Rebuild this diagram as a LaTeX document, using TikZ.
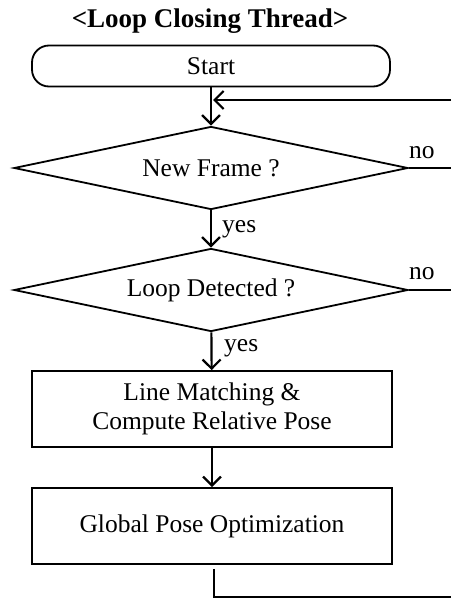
\documentclass[tikz,border=0pt]{standalone}
\usepackage{fontspec}
\setmainfont{Liberation Serif}
\usetikzlibrary{arrows.meta,shapes.geometric}
\begin{document}
\begin{tikzpicture}[x=1pt,y=-1pt,
  txt/.style={font=\fontsize{25.5}{29}\selectfont},
  term/.style={draw,line width=1.8pt,rounded corners=17pt,minimum width=358pt,minimum height=41pt,inner sep=0pt,txt},
  decision/.style={draw,diamond,line width=1.8pt,minimum width=394pt,minimum height=83pt,inner sep=0pt,aspect=4.75,txt},
  process/.style={draw,line width=1.8pt,minimum width=360pt,minimum height=76pt,inner sep=0pt,align=center,txt},
  flow/.style={line width=2.2pt,-{Straight Barb[length=9pt,width=18pt,line width=2.2pt]}},
  back/.style={line width=2.8pt},
  lbl/.style={txt,inner sep=0pt,anchor=base west},
]
\useasboundingbox (0,0) rectangle (451,599);

% title and flow nodes
\node[font=\fontsize{27}{32}\selectfont\bfseries,inner sep=0pt,anchor=base] (title) at (210,28) {<Loop Closing Thread>};
\node[term] (start) at (211,66) {Start};
\node[decision] (frame) at (211,168) {New Frame ?};
\node[decision] (loop) at (211,290) {Loop Detected ?};
\node[process] (match) at (212,409) {Line Matching \&\\Compute Relative Pose};
\node[process] (opt) at (212,526) {Global Pose Optimization};

% free ends at the right border
\coordinate (ret) at (451,100);
\coordinate (no1) at (451,168);
\coordinate (no2) at (451,290);
\coordinate (fin) at (451,597);

% main flow
\draw[flow] (start) -- (frame);
\draw[flow] (frame) -- (loop);
\draw[flow] (loop) -- (match);
\draw[flow] (match) -- (opt);

% return branches
\draw[back,-{Straight Barb[length=9pt,width=18pt,line width=2.2pt]}] (ret) -- ([xshift=2pt]ret -| start.south);
\draw[back] (frame.east) -- (no1);
\draw[back] (loop.east) -- (no2);
\draw[back] ([xshift=2pt,yshift=-4pt]opt.south) |- (fin);

% branch labels
\node[lbl] (yes1) at (222,232) {yes};
\node[lbl] (yes2) at (224,351) {yes};
\node[lbl] (nolbl1) at (409,158) {no};
\node[lbl] (nolbl2) at (409,279) {no};
\end{tikzpicture}
\end{document}
